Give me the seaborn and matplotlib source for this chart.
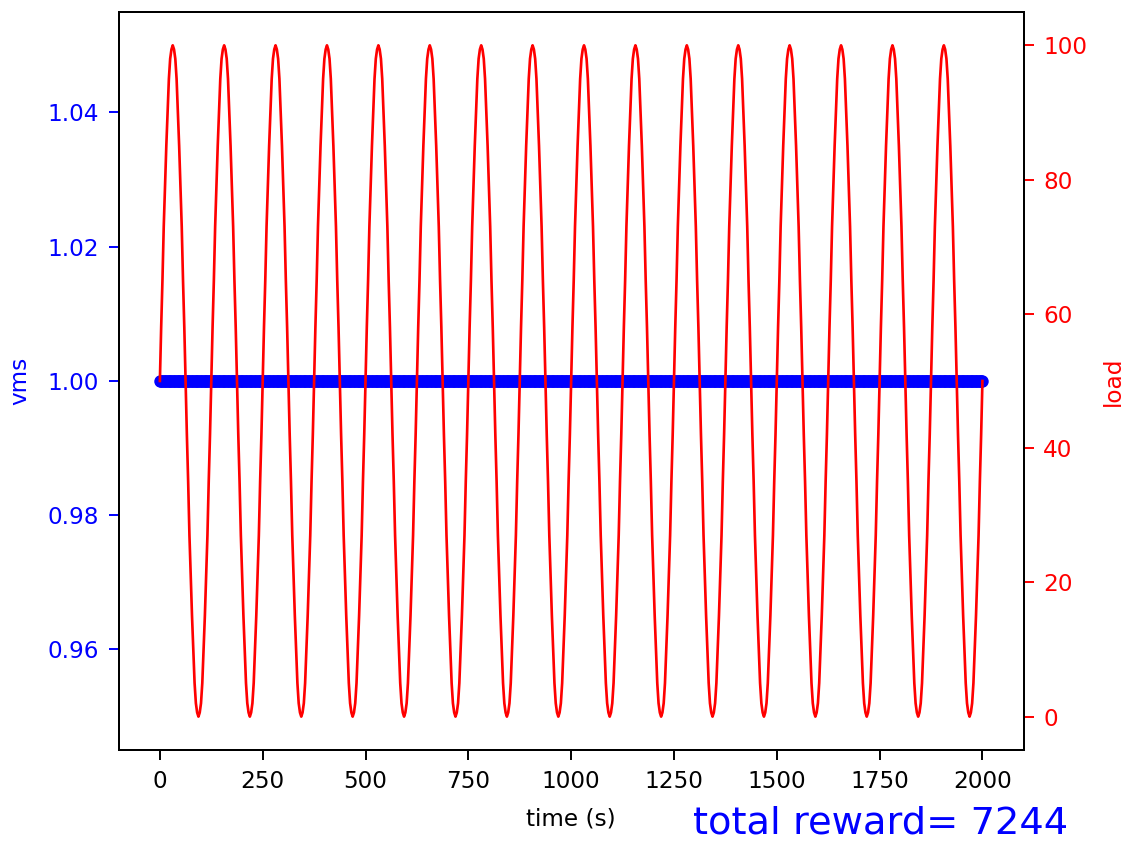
import numpy as np
import matplotlib
matplotlib.use("Agg")
import matplotlib.pyplot as plt
import seaborn as sns

# ---- data ----
# one load cycle (period 125 s), sampled every 3.125 s, read from the curve
load_cycle = [50, 58, 65, 73, 79, 85, 90, 95, 98, 99.4,
              100, 99.4, 98, 95, 90, 85, 79, 73, 65, 58,
              50, 42, 35, 27, 21, 15, 10, 5, 2, 0.6,
              0, 0.6, 2, 5, 10, 15, 21, 27, 35, 42]
n_cycles = 16
load = load_cycle * n_cycles + [50]
time = np.linspace(0, 2000, len(load))
vms = [1.0] * len(load)
total_reward = 7244

DPI = 128
FS = 13
fig = plt.figure(figsize=(1131 / DPI, 841 / DPI), dpi=DPI)
ax1 = fig.add_axes([0.105, 0.108, 0.80, 0.878])
ax2 = ax1.twinx()

sns.lineplot(x=time, y=vms, ax=ax1, color="blue", marker="o", markersize=6,
             markeredgecolor="blue", markeredgewidth=1.0, linewidth=1.5)
sns.lineplot(x=time, y=load, ax=ax2, color="red", linewidth=1.5)

ax1.set_xlim(-100, 2100)
ax1.set_ylim(0.945, 1.055)
ax1.set_yticks([0.96, 0.98, 1.00, 1.02, 1.04])
ax1.set_xticks([0, 250, 500, 750, 1000, 1250, 1500, 1750, 2000])
ax2.set_ylim(-5, 105)
ax2.set_yticks([0, 20, 40, 60, 80, 100])

for ax in (ax1, ax2):
    for sp in ax.spines.values():
        sp.set_linewidth(1.1)

ax1.tick_params(axis="y", colors="blue", length=5.6, width=1.1, pad=5.5, labelsize=FS)
ax1.tick_params(axis="x", length=5.6, width=1.1, pad=5.5, labelsize=FS)
ax2.tick_params(axis="y", colors="red", length=5.6, width=1.1, pad=5.5, labelsize=FS)

ax1.set_xlabel("time (s)", fontsize=FS, labelpad=8)
ax1.set_ylabel("vms", color="blue", fontsize=FS, labelpad=9)
ax2.set_ylabel("load", color="red", fontsize=FS, labelpad=8)

fig.text(0.944, 0.0, f"total reward= {total_reward}", color="blue",
         fontsize=21.6, ha="right", va="bottom")

fig.savefig("out.png", dpi=DPI)
